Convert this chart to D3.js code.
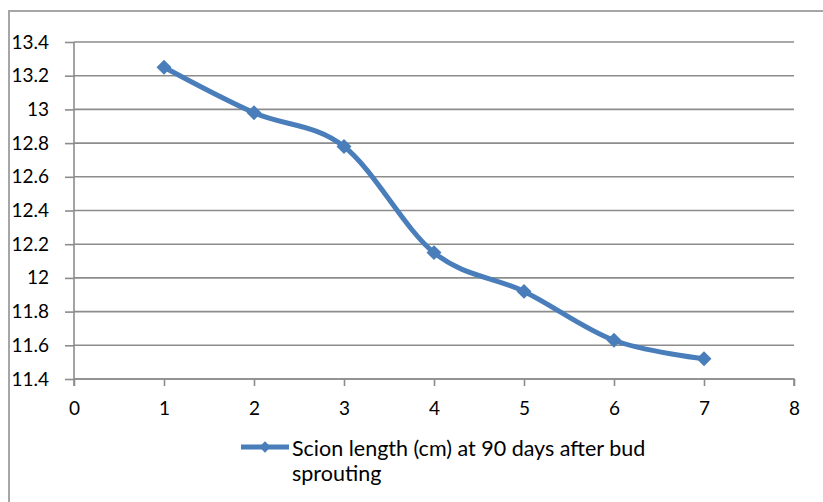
<!DOCTYPE html>
<html>
<head>
<meta charset="utf-8">
<script src="https://cdn.jsdelivr.net/npm/d3@7"></script>
<style>
  body { margin: 0; background: #fff; }
  svg text { font-family: Lato, "Open Sans", sans-serif; fill: #000; }
</style>
</head>
<body>
<svg id="chart" width="823" height="502"></svg>
<script>
// values
const days = [1, 2, 3, 4, 5, 6, 7];
const scionLength = [13.25, 12.98, 12.78, 12.15, 11.92, 11.63, 11.52];
const xTicks = [0, 1, 2, 3, 4, 5, 6, 7, 8];
const yTicks = [11.4, 11.6, 11.8, 12, 12.2, 12.4, 12.6, 12.8, 13, 13.2, 13.4];
const seriesName = ["Scion length (cm) at 90 days after bud", "sprouting"];

const svg = d3.select('#chart');
const blue = '#4a7ebb';
const grey = '#8c8c8c';

// outer chart frame (only top and left edges show in the crop)
svg.append('path')
  .attr('d', 'M9,502V11H823')
  .attr('fill', 'none')
  .attr('stroke', '#a6a6a6')
  .attr('stroke-width', 2);

const x = d3.scaleLinear().domain([0, 8]).range([74, 794]);
const y = d3.scaleLinear().domain([11.4, 13.4]).range([379, 42]);

// horizontal gridlines
svg.append('g')
  .selectAll('line')
  .data(yTicks)
  .join('line')
  .attr('x1', x(0)).attr('x2', x(8))
  .attr('y1', d => y(d)).attr('y2', d => y(d))
  .attr('stroke', grey)
  .attr('stroke-width', 1.6);

// y axis
const yAxis = svg.append('g')
  .attr('transform', `translate(${x(0)},0)`)
  .call(d3.axisLeft(y).tickValues(yTicks).tickSize(9).tickPadding(16)
    .tickFormat(d => d3.format('')(+d.toFixed(1))));

// x axis
const xAxis = svg.append('g')
  .attr('transform', `translate(0,${y(11.4)})`)
  .call(d3.axisBottom(x).tickValues(xTicks).tickSize(7).tickPadding(16)
    .tickFormat(d3.format('d')));

[yAxis, xAxis].forEach(g => {
  g.select('.domain').attr('stroke', grey).attr('stroke-width', 1.6);
  g.selectAll('.tick line').attr('stroke', grey).attr('stroke-width', 1.6);
  g.selectAll('text').attr('font-size', 19).attr('fill', '#000')
    .style('font-family', 'Lato, sans-serif');
});
// y axis line runs down past the x axis to the tick length
yAxis.select('.domain').attr('d', `M0,${y(13.4)}V${y(11.4) + 7}`);
xAxis.select('.domain').attr('d', `M${x(0)},0H${x(8)}V7`);

// smoothed series line
const pts = days.map((d, i) => [x(d), y(scionLength[i])]);
svg.append('path')
  .attr('d', d3.line().curve(d3.curveCardinal.tension(0))(pts))
  .attr('fill', 'none')
  .attr('stroke', blue)
  .attr('stroke-width', 5)
  .attr('stroke-linecap', 'round');

const diamond = d3.symbol().type(d3.symbolSquare).size(112);
svg.append('g')
  .selectAll('path')
  .data(pts)
  .join('path')
  .attr('d', diamond)
  .attr('transform', d => `translate(${d[0]},${d[1]}) rotate(45)`)
  .attr('fill', blue);

// legend
const leg = svg.append('g');
leg.append('line')
  .attr('x1', 241).attr('x2', 289)
  .attr('y1', 447).attr('y2', 447)
  .attr('stroke', blue).attr('stroke-width', 5);
leg.append('path')
  .attr('d', d3.symbol().type(d3.symbolSquare).size(64))
  .attr('transform', 'translate(265,447) rotate(45)')
  .attr('fill', blue);
leg.append('g')
  .selectAll('text')
  .data(seriesName)
  .join('text')
  .attr('x', 292)
  .attr('y', (d, i) => 456 + i * 25)
  .attr('font-size', 21.5)
  .text(d => d);
</script>
</body>
</html>
